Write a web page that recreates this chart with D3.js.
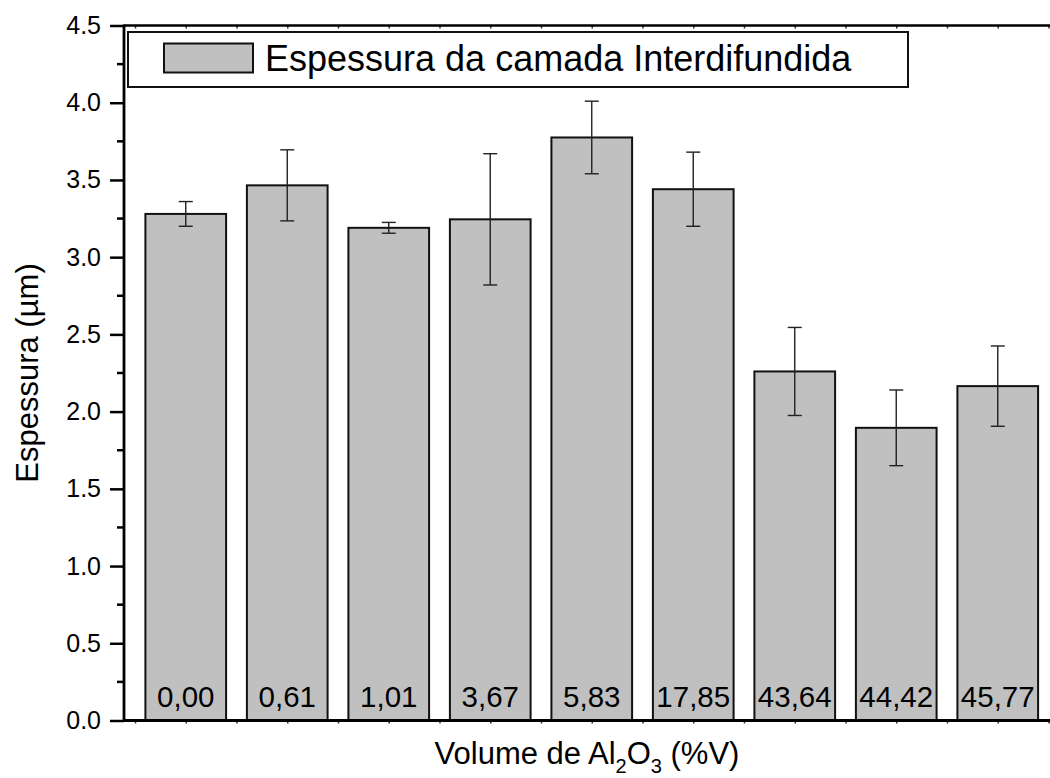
<!DOCTYPE html>
<html>
<head>
<meta charset="utf-8">
<script src="https://cdn.jsdelivr.net/npm/d3@7"></script>
<style>
  html, body { margin: 0; padding: 0; background: #fff; }
  svg { display: block; font-family: "Liberation Sans", Arial, sans-serif; }
</style>
</head>
<body>
<svg id="chart" width="1050" height="778"></svg>
<script>
// Interdiffused layer thickness per Al2O3 volume fraction
const categories = ["0,00", "0,61", "1,01", "3,67", "5,83", "17,85", "43,64", "44,42", "45,77"];
const thickness  = [3.28, 3.465, 3.19, 3.245, 3.775, 3.44, 2.26, 1.895, 2.165];
const errors     = [0.08, 0.23, 0.035, 0.425, 0.235, 0.24, 0.285, 0.245, 0.26];
const yTicks     = [0, 0.5, 1, 1.5, 2, 2.5, 3, 3.5, 4, 4.5];
const legendLabel = "Espessura da camada Interdifundida";

const svg = d3.select("#chart");

const plot = { left: 124, right: 1050, top: 25.5, bottom: 720.5 };

// category positions: bars sit on integers 1..9, ticks on every half step
const x = d3.scaleLinear().domain([0.5, 9.5]).range([135, 1048.5]);
const y = d3.scaleLinear().domain([0, 4.5]).range([plot.bottom, plot.top]);
const step = x(2) - x(1);
const barW = step * 0.795;

const data = categories.map((c, i) => ({ cat: c, pos: i + 1, v: thickness[i], e: errors[i] }));

// bars
svg.append("g").selectAll("rect").data(data).join("rect")
  .attr("x", d => x(d.pos) - barW / 2)
  .attr("y", d => y(d.v))
  .attr("width", barW)
  .attr("height", d => y(0) - y(d.v))
  .attr("fill", "#c0c0c0")
  .attr("stroke", "#111")
  .attr("stroke-width", 2);

// error bars
const eg = svg.append("g").attr("stroke", "#222").attr("stroke-width", 1.4);
const cap = 7;
data.forEach(d => {
  eg.append("line").attr("x1", x(d.pos)).attr("x2", x(d.pos))
    .attr("y1", y(d.v + d.e)).attr("y2", y(d.v - d.e));
  [d.v + d.e, d.v - d.e].forEach(v => {
    eg.append("line").attr("x1", x(d.pos) - cap).attr("x2", x(d.pos) + cap)
      .attr("y1", y(v)).attr("y2", y(v));
  });
});

// value labels inside bars
svg.append("g").selectAll("text").data(data).join("text")
  .attr("x", d => x(d.pos))
  .attr("y", 707)
  .attr("text-anchor", "middle")
  .attr("font-size", 29.5)
  .attr("fill", "#000")
  .text(d => d.cat);

// left axis
const yAxis = d3.axisLeft(y).tickValues(yTicks).tickFormat(d3.format(".1f"))
  .tickSize(14).tickPadding(9);
const gy = svg.append("g").attr("transform", `translate(${plot.left},0)`).call(yAxis);
gy.select(".domain").remove();
gy.attr("font-size", 25).attr("font-family", "Liberation Sans, Arial, sans-serif");
gy.selectAll(".tick line").attr("stroke", "#000").attr("stroke-width", 2.5);
gy.selectAll(".tick text").attr("font-size", 25).attr("fill", "#000");

// minor ticks on the left axis
const minor = d3.range(0.25, 4.5, 0.5);
svg.append("g").selectAll("line").data(minor).join("line")
  .attr("x1", plot.left - 7).attr("x2", plot.left)
  .attr("y1", d => y(d)).attr("y2", d => y(d))
  .attr("stroke", "#000").attr("stroke-width", 2.5);

// bottom and top axes: short ticks at each half category
const xt = d3.range(0.5, 9.51, 0.5);
const xAxisB = d3.axisBottom(x).tickValues(xt).tickSize(3).tickFormat("");
const gxb = svg.append("g").attr("transform", `translate(0,${plot.bottom})`).call(xAxisB);
gxb.select(".domain").remove();
gxb.selectAll(".tick line").attr("stroke", "#333").attr("stroke-width", 1.5);

const xAxisT = d3.axisBottom(x).tickValues(xt).tickSize(3).tickFormat("");
const gxt = svg.append("g").attr("transform", `translate(0,${plot.top})`).call(xAxisT);
gxt.select(".domain").remove();
gxt.selectAll(".tick line").attr("stroke", "#333").attr("stroke-width", 1.5);

// frame lines
svg.append("line").attr("x1", plot.left).attr("x2", plot.right)
  .attr("y1", plot.bottom).attr("y2", plot.bottom)
  .attr("stroke", "#000").attr("stroke-width", 2.8);
svg.append("line").attr("x1", plot.left).attr("x2", plot.right)
  .attr("y1", plot.top).attr("y2", plot.top)
  .attr("stroke", "#000").attr("stroke-width", 2.5);
svg.append("line").attr("x1", plot.left).attr("x2", plot.left)
  .attr("y1", plot.top - 1).attr("y2", plot.bottom + 1.4)
  .attr("stroke", "#000").attr("stroke-width", 2.8);

// legend
const lg = svg.append("g");
lg.append("rect").attr("x", 128).attr("y", 32).attr("width", 780).attr("height", 55)
  .attr("fill", "#fff").attr("stroke", "#111").attr("stroke-width", 2);
lg.append("rect").attr("x", 164).attr("y", 43.5).attr("width", 89).attr("height", 29)
  .attr("fill", "#c0c0c0").attr("stroke", "#111").attr("stroke-width", 2);
lg.append("text").attr("x", 265).attr("y", 71).attr("font-size", 36).attr("fill", "#000")
  .text(legendLabel);

// axis titles
svg.append("text")
  .attr("transform", `translate(38,${(plot.top + plot.bottom) / 2}) rotate(-90)`)
  .attr("text-anchor", "middle")
  .attr("font-size", 31)
  .attr("fill", "#000")
  .text("Espessura (µm)");

const xt2 = svg.append("text")
  .attr("x", 587)
  .attr("y", 764)
  .attr("text-anchor", "middle")
  .attr("font-size", 31)
  .attr("fill", "#000");
xt2.append("tspan").text("Volume de Al");
xt2.append("tspan").attr("font-size", 20).attr("dy", 9).text("2");
xt2.append("tspan").attr("dy", -9).text("O");
xt2.append("tspan").attr("font-size", 20).attr("dy", 9).text("3");
xt2.append("tspan").attr("dy", -9).text(" (%V)");
</script>
</body>
</html>
